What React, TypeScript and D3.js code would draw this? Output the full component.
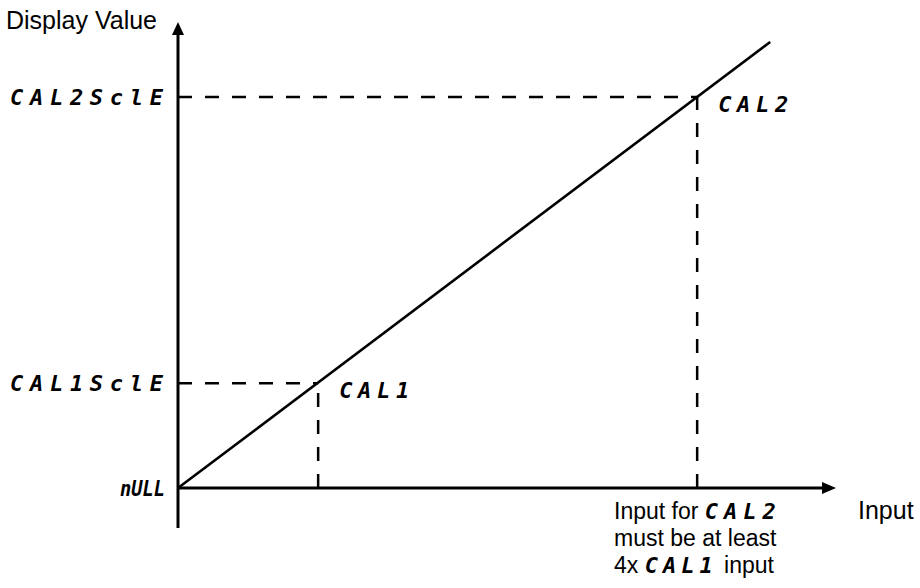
import React from "react";
import * as d3 from "d3";

// Calibration diagram values (arbitrary units: axis length = 100)
const axisMax = { input: 100, display: 100 };
const axisMin = { input: 0, display: -8.6 };
const calInputs = [21.3, 78.9]; // CAL1, CAL2 input
const calScales = [22.5, 83.9]; // CAL1 SCALE, CAL2 SCALE display values
const lineEnd = { input: 90, display: 95.7 };
const scaleLabels = ["CAL1SclE", "CAL2SclE"];
const pointLabels = ["CAL1", "CAL2"];
const originLabel = "nULL";
const yTitle = "Display Value";
const xTitle = "Input";
const noteLines = ["Input for ", "must be at least", "4x ", " input"];

const W = 920;
const H = 588;

export default function App() {
  const x = d3.scaleLinear().domain([0, axisMax.input]).range([178, 836]);
  const y = d3.scaleLinear().domain([0, axisMax.display]).range([488, 22]);

  const lineGen = d3
    .line<[number, number]>()
    .x((d) => x(d[0]))
    .y((d) => y(d[1]));
  const diag: [number, number][] = [
    [0, 0],
    [lineEnd.input, lineEnd.display],
  ];

  const segFont = "'DejaVu Sans Mono', monospace";
  const txtFont = "'Liberation Sans', Arial, Helvetica, sans-serif";
  const segStyle = {
    fontFamily: segFont,
    fontWeight: 700,
    fontSize: 22,
    fontStyle: "italic",
  } as const;

  const x0 = x(0);
  const y0 = y(0);
  const xTip = x(axisMax.input);
  const yTip = y(axisMax.display);

  return (
    <svg
      width={W}
      height={H}
      style={{ position: "absolute", left: 0, top: 0, background: "#fff" }}
    >
      {/* dashed guides */}
      {calInputs.map((ci, i) => (
        <g key={"g" + i} stroke="#000" strokeWidth={2.5} strokeDasharray="14 13">
          <line x1={x0} y1={y(calScales[i])} x2={x(ci)} y2={y(calScales[i])} />
          <line x1={x(ci)} y1={y0} x2={x(ci)} y2={y(calScales[i])} />
        </g>
      ))}
      {/* diagonal */}
      <path d={lineGen(diag) || ""} stroke="#000" strokeWidth={2.6} fill="none" />
      {/* axes */}
      <line x1={x0} y1={y(axisMin.display)} x2={x0} y2={yTip + 10} stroke="#000" strokeWidth={3} />
      <line x1={x0} y1={y0} x2={xTip - 12} y2={y0} stroke="#000" strokeWidth={3} />
      <path
        d={`M${x0},${yTip} L${x0 - 6},${yTip + 13} L${x0 + 6},${yTip + 13} Z`}
        fill="#000"
      />
      <path
        d={`M${xTip},${y0} L${xTip - 14},${y0 - 6} L${xTip - 14},${y0 + 6} Z`}
        fill="#000"
      />
      {/* axis titles */}
      <text x={6} y={yTip + 7} fontFamily={txtFont} fontSize={25} fill="#000">
        {yTitle}
      </text>
      <text x={858} y={y0 + 31} fontFamily={txtFont} fontSize={25} fill="#000">
        {xTitle}
      </text>
      {/* scale labels on y axis */}
      {calScales.map((cs, i) => (
        <text
          key={"s" + i}
          x={10}
          y={y(cs) + 8}
          textLength={153}
          lengthAdjust="spacing"
          {...segStyle}
          fill="#000"
        >
          {scaleLabels[i]}
        </text>
      ))}
      <text
        x={120}
        y={y0 + 8}
        textLength={45}
        lengthAdjust="spacingAndGlyphs"
        {...segStyle}
        fill="#000"
      >
        {originLabel}
      </text>
      {/* point labels */}
      {calInputs.map((ci, i) => (
        <text
          key={"p" + i}
          x={x(ci) + 21}
          y={y(calScales[i]) + 15}
          textLength={70}
          lengthAdjust="spacing"
          {...segStyle}
          fill="#000"
        >
          {pointLabels[i]}
        </text>
      ))}
      {/* note under CAL2 */}
      <g fontFamily={txtFont} fontSize={23} fill="#000">
        <text x={614} y={y0 + 31}>
          {noteLines[0]}
          <tspan {...segStyle} letterSpacing={6}>{pointLabels[1]}</tspan>
        </text>
        <text x={614} y={y0 + 58}>{noteLines[1]}</text>
        <text x={614} y={y0 + 85}>
          {noteLines[2]}
          <tspan {...segStyle} letterSpacing={5}>{pointLabels[0]}</tspan>
          <tspan>{noteLines[3]}</tspan>
        </text>
      </g>
    </svg>
  );
}
